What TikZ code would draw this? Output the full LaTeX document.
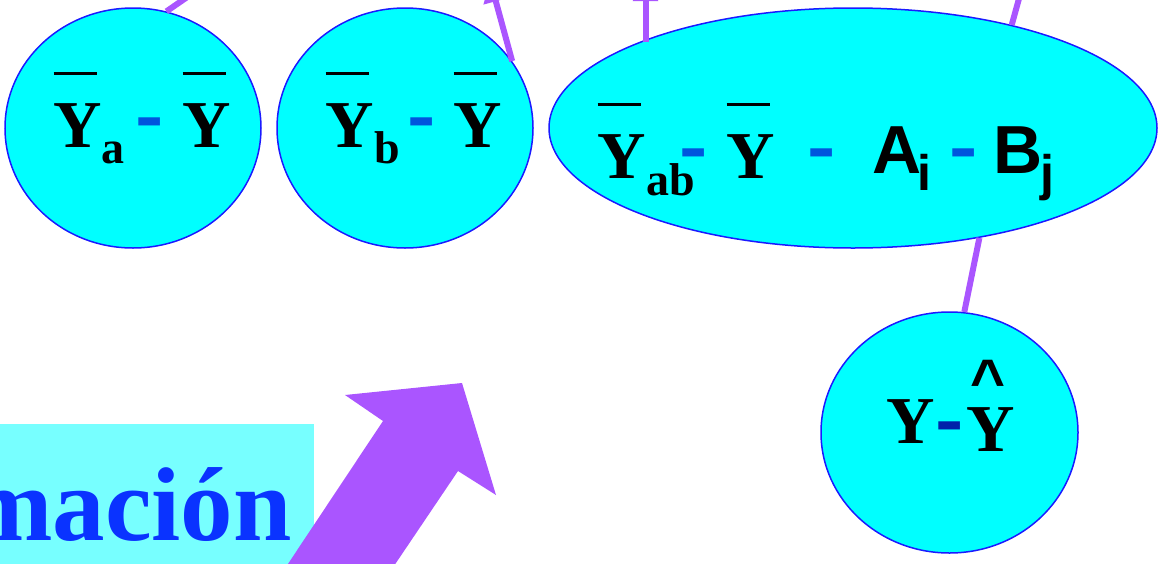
\documentclass[tikz,border=0pt]{standalone}
\usepackage{fontspec}
\setmainfont{Liberation Serif}
\newfontfamily\sansf{Liberation Sans}
\usetikzlibrary{arrows.meta,shapes.geometric}
\definecolor{nodecyan}{RGB}{0,255,255}
\definecolor{edgeblue}{RGB}{26,26,255}
\definecolor{lilac}{RGB}{170,85,255}
\definecolor{boxcyan}{RGB}{119,255,255}
\definecolor{titleblue}{RGB}{10,51,255}
\definecolor{mblue}{RGB}{0,85,221}
\definecolor{mdark}{RGB}{0,34,170}
\newcommand\at[2]{\rlap{\hspace*{#1}#2}}
\newcommand\ybar{\rlap{\rule[72pt]{43pt}{3pt}}Y}
\newcommand\mns[2]{\textcolor{#1}{\raisebox{#2}{\scalebox{1.25}[1]{\sansf\fontsize{68}{68}\selectfont\bfseries -}}}}
\newcommand\sub[2]{\raisebox{-#1}{\fontsize{46}{46}\selectfont #2}}
\newcommand\ssub[2]{\raisebox{-#1}{\fontsize{50}{50}\selectfont\sansf\bfseries #2}}
\begin{document}
\begin{tikzpicture}[x=1pt,y=-1pt,
  bub/.style={ellipse, draw=edgeblue, line width=1.5pt, fill=nodecyan, inner sep=0pt},
  link/.style={draw=lilac, line width=6pt},
  headtip/.style={-{Triangle[length=22pt,width=24pt]}},
  lbl/.style={anchor=base west, inner sep=0pt, font=\fontsize{67}{67}\selectfont\bfseries}]
\useasboundingbox (0,0) rectangle (1160,563);
\clip (0,0) rectangle (1160,563);
% title box and big arrow
\fill[boxcyan] (0,424) rectangle (314,570);
\node[anchor=base east, inner sep=0pt, text=titleblue, font=\fontsize{105}{105}\selectfont\bfseries] (title) at (292,540) {mación};
\fill[lilac] (345,395) -- (462,383) -- (496,495) -- (458,471) -- (371,600) -- (264,600) -- (383,421) -- cycle;
% bubbles
\node[bub, minimum width=256pt, minimum height=240pt] (A) at (133,128) {};
\node[bub, minimum width=256pt, minimum height=240pt] (B) at (405,128) {};
\node[bub, minimum width=608pt, minimum height=240pt] (C) at (853,128) {};
\node[bub, minimum width=257pt, minimum height=241pt] (D) at (949.5,432.5) {};
% connectors
\coordinate (tA) at (238,-38);
\coordinate (tB) at (490,-20);
\coordinate (tC) at (645.5,-21);
\coordinate (tC2) at (1033,-52);
\draw[link] (A.74) -- (tA);
\draw[link,headtip] (B.32) -- (tB);
\draw[link,headtip] (C.158 -| tC) -- (tC);
\draw[link] (C.33) -- (tC2);
\draw[link] (C.-41.5) -- (D.83);
% labels
\node[lbl] (la) at (53,147) {\at{0pt}{\ybar}\at{48pt}{\sub{16pt}{a}}\at{82pt}{\mns{mblue}{8pt}}\at{129pt}{\ybar}};
\node[lbl] (lb) at (325,147) {\at{0pt}{\ybar}\at{49pt}{\sub{16pt}{b}}\at{82pt}{\mns{mblue}{8pt}}\at{128pt}{\ybar}};
\node[lbl] (lc) at (597,178) {\at{0pt}{\ybar}\at{49pt}{\sub{17pt}{ab}}\at{82pt}{\mns{mblue}{8pt}}\at{129pt}{\ybar}\at{210pt}{\mns{mblue}{8pt}}\at{275pt}{\raisebox{5pt}{\sansf\fontsize{68}{68}\selectfont\bfseries A}}\at{320pt}{\ssub{12pt}{i}}\at{352pt}{\mns{mblue}{8pt}}\at{396pt}{\raisebox{5pt}{\sansf\fontsize{68}{68}\selectfont\bfseries B}}\at{443pt}{\ssub{12pt}{j}}};
\node[lbl] (ld) at (886,443) {\at{0pt}{Y}\at{49pt}{\mns{mdark}{0pt}}\at{80pt}{\raisebox{-8pt}{Y}}\at{84pt}{\raisebox{42pt}{\sansf\fontsize{60}{60}\selectfont\bfseries\^{}}}};
\end{tikzpicture}
\end{document}
